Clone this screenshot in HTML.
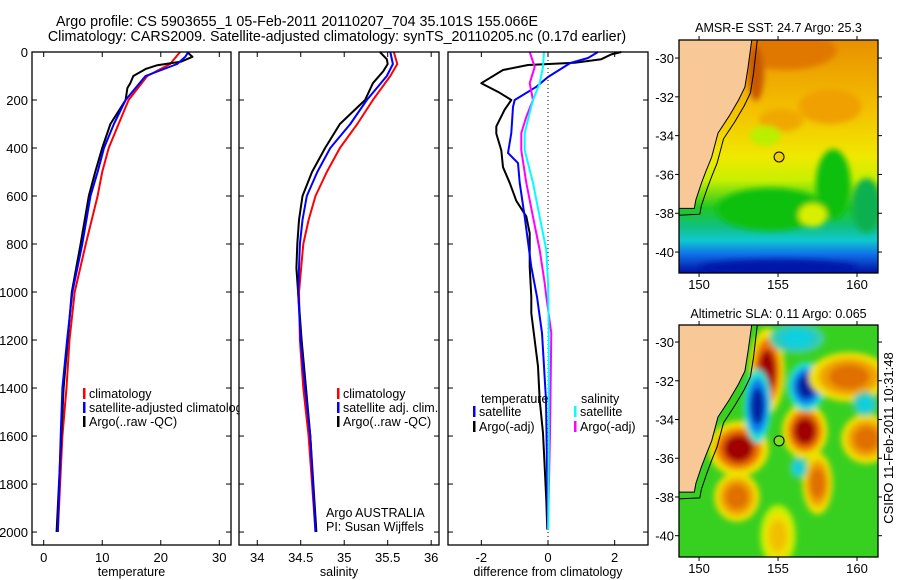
<!DOCTYPE html>
<html><head><meta charset="utf-8">
<style>
html,body{margin:0;padding:0;background:#fff;}
svg{display:block;font-family:"Liberation Sans",sans-serif;}
</style></head>
<body>
<svg id="fig" width="900" height="580" viewBox="0 0 900 580" xmlns="http://www.w3.org/2000/svg">
<defs>
<filter id="blur" x="-20%" y="-20%" width="140%" height="140%"><feGaussianBlur stdDeviation="3"/></filter>
<clipPath id="clipMap1"><rect x="679" y="40" width="199" height="233"/></clipPath>
<clipPath id="clipMap2"><rect x="679" y="325" width="199" height="232"/></clipPath>
<linearGradient id="sstGrad" x1="0" y1="0" x2="0" y2="1">
<stop offset="0" stop-color="#e89000"/><stop offset="0.3" stop-color="#f4c000"/>
<stop offset="0.5" stop-color="#f0e800"/><stop offset="0.6" stop-color="#c8f000"/>
<stop offset="0.72" stop-color="#20c820"/><stop offset="0.8" stop-color="#10c080"/>
<stop offset="0.86" stop-color="#10c8d0"/><stop offset="0.92" stop-color="#1070e8"/>
<stop offset="1" stop-color="#0010a0"/>
</linearGradient>
</defs>
<text x="297" y="26" font-size="14.3" text-anchor="middle">Argo profile: CS 5903655_1 05-Feb-2011 20110207_704 35.101S 155.066E</text>
<text x="337" y="41" font-size="14.3" text-anchor="middle">Climatology: CARS2009. Satellite-adjusted climatology: synTS_20110205.nc (0.17d earlier)</text>
<g id="layer"></g>
</svg>
<script>
// ---------- data ----------
const depthTempClim = [0,50,100,200,300,400,500,600,800,1000,1200,1400,1600,2000];
const tempClim      = [23.3,21.6,17.7,14.5,12.8,11.1,10.0,9.2,7.2,5.3,4.4,3.9,3.2,2.4];
const depthTempSat  = [0,20,50,100,200,300,400,500,600,800,1000,1200,1400,1600,2000];
const tempSat       = [24.7,24.2,22.8,17.4,14.0,12.0,10.3,9.2,8.0,6.6,4.9,4.0,3.2,2.9,2.4];
const depthTempArgo = [0,20,40,55,70,100,130,150,200,300,400,500,600,800,1000,1200,1400,1600,2000];
const tempArgo      = [24.5,25.4,23.5,19.4,17.5,15.3,14.8,14.3,14.0,11.4,10.0,8.8,7.7,6.3,4.8,4.1,3.4,3.0,2.2];

const depthSal     = [0,50,100,200,300,400,500,600,700,800,1000,1200,1400,1600,2000];
const salClim      = [35.57,35.61,35.53,35.33,35.15,34.95,34.80,34.67,34.59,34.53,34.48,34.49,34.53,34.59,34.67];
const salSat       = [35.53,35.56,35.49,35.26,35.07,34.84,34.69,34.57,34.52,34.49,34.47,34.50,34.55,34.61,34.67];
const depthSalArgo = [0,30,50,80,130,200,300,400,500,600,700,800,900,1000,1200,1400,1600,2000];
const salArgo      = [35.41,35.49,35.50,35.45,35.33,35.24,34.95,34.78,34.63,34.52,34.48,34.46,34.45,34.47,34.51,34.56,34.61,34.68];

const depthDiffT   = [0,10,30,45,54,75,130,170,200,240,310,340,410,480,545,620,685,755,895,1020,1088,1310,1450,1588,1729,1867,1990];
const diffTArgo    = [2.2,1.9,1.6,0.8,-0.6,-1.35,-2.0,-1.45,-1.1,-1.3,-1.55,-1.55,-1.4,-1.35,-1.15,-0.95,-0.65,-0.55,-0.55,-0.5,-0.5,-0.3,-0.25,-0.15,-0.1,-0.05,-0.02];
const depthDiffTS  = [0,25,46,104,145,200,229,338,421,463,545,687,895,1020,1171,1310,1450,1729,1990];
const diffTSat     = [1.5,1.2,0.67,0,-0.35,-1.0,-1.05,-1.1,-1.2,-0.9,-0.85,-0.7,-0.5,-0.33,-0.18,-0.12,-0.06,-0.03,0];
const depthDiffS   = [0,62,130,200,270,338,410,545,687,825,963,1020,1171,1588,1990];
const diffSArgo    = [-0.55,-0.4,-0.55,-0.45,-0.65,-0.8,-0.8,-0.65,-0.45,-0.25,-0.1,-0.05,0.1,0.06,0.0];
const diffSSat     = [-0.12,-0.15,-0.25,-0.45,-0.58,-0.7,-0.7,-0.45,-0.25,-0.05,0.0,0.01,0.02,0.02,0.01];

const depthTicks = [0,200,400,600,800,1000,1200,1400,1600,1800,2000];
const tempTicks = [0,10,20,30];
const salTicks = [34,34.5,35,35.5,36];
const salTickLabels = ["34","34.5","35","35.5","36"];
const diffTicks = [-2,0,2];
const latTicks = [-30,-32,-34,-36,-38,-40];
const lonTicks = [150,155,160];

// ---------- helpers ----------
const NS="http://www.w3.org/2000/svg";
const layer=document.getElementById('layer');
function mk(tag,attrs,parent){const e=document.createElementNS(NS,tag);for(const k in attrs)e.setAttribute(k,attrs[k]);(parent||layer).appendChild(e);return e;}
function txt(x,y,s,size,anchor,parent){const t=mk('text',{x:x,y:y,'font-size':size,'text-anchor':anchor||'start'},parent);t.textContent=s;return t;}
const yTop=52, yBot=545, dMax=2054;
function yD(d){return yTop+d/dMax*(yBot-yTop);}

function panel(name,x0,x1,xmin,xmax){
  const g=mk('g',{});
  
  
  mk('rect',{x:x0,y:yTop,width:x1-x0,height:yBot-yTop,fill:'#fff',stroke:'none'},g);
  return {g:g,x0:x0,x1:x1,sx:v=>x0+(v-xmin)/(xmax-xmin)*(x1-x0)};
}
function frame(p,xt,xl,xlabel,showY){
  const g=p.g;
  mk('rect',{x:p.x0,y:yTop,width:p.x1-p.x0,height:yBot-yTop,fill:'none',stroke:'#000','stroke-width':1.3},g);
  depthTicks.forEach(d=>{const y=yD(d);
    mk('line',{x1:p.x0,y1:y,x2:p.x0+5,y2:y,stroke:'#000'},g);
    mk('line',{x1:p.x1,y1:y,x2:p.x1-5,y2:y,stroke:'#000'},g);
    if(showY){const t=txt(p.x0-4,y+5,String(d),13,'end',g);
      
      }
  });
  xt.forEach((v,i)=>{const x=p.sx(v);
    mk('line',{x1:x,y1:yBot,x2:x,y2:yBot-5,stroke:'#000'},g);
    mk('line',{x1:x,y1:yTop,x2:x,y2:yTop+5,stroke:'#000'},g);
    const t=txt(x,562,xl[i],13,'middle',g);
    
    
  });
  const t=txt((p.x0+p.x1)/2,576,xlabel,12.5,'middle',g);
  
  
}
function series(p,xs,ds,color,w,name){
  let s='';xs.forEach((v,i)=>{s+=(i?'L':'M')+p.sx(v).toFixed(1)+','+yD(ds[i]).toFixed(1);});
  const e=mk('path',{d:s,fill:'none',stroke:color,'stroke-width':w,'stroke-linejoin':'round'},p.g);
  
  
}
function legend(g,x,y,color,label){
  mk('rect',{x:x,y:y-10,width:2.5,height:11,fill:color},g);
  const t=txt(x+6,y,label,12.5,'start',g);
  
  
}

// ---------- panel 1 temperature ----------
const p1=panel('temperature-panel',32,231,-2,32);
series(p1,tempClim,depthTempClim,'#ff0000',2,'temp-climatology-line');
series(p1,tempArgo,depthTempArgo,'#000',2,'temp-argo-line');
series(p1,tempSat,depthTempSat,'#0000ff',2,'temp-satellite-line');
legend(p1.g,83,398,'#ff0000','climatology');
legend(p1.g,83,412,'#0000ff','satellite-adjusted climatology');
legend(p1.g,83,426,'#000','Argo(..raw -QC)');
frame(p1,tempTicks,tempTicks.map(String),'temperature',true);

// ---------- panel 2 salinity ----------
const p2=panel('salinity-panel',239,439,33.79,36.09);
series(p2,salClim,depthSal,'#ff0000',2,'sal-climatology-line');
series(p2,salArgo,depthSalArgo,'#000',2,'sal-argo-line');
series(p2,salSat,depthSal,'#0000ff',2,'sal-satellite-line');
legend(p2.g,337,398,'#ff0000','climatology');
legend(p2.g,337,412,'#0000ff','satellite adj. clim.');
legend(p2.g,337,426,'#000','Argo(..raw -QC)');
{let t=txt(326,517,'Argo AUSTRALIA',12.5,'start',p2.g);
 t=txt(326,531,'PI: Susan Wijffels',12.5,'start',p2.g);}
frame(p2,salTicks,salTickLabels,'salinity',false);

// ---------- panel 3 difference ----------
const p3=panel('difference-panel',448,648,-3,3);
mk('line',{x1:p3.sx(0),y1:yTop,x2:p3.sx(0),y2:yBot,stroke:'#000','stroke-dasharray':'1,3'},p3.g);
series(p3,diffTArgo,depthDiffT,'#000',2,'diff-temp-argo-line');
series(p3,diffTSat,depthDiffTS,'#0000ff',2,'diff-temp-satellite-line');
series(p3,diffSArgo,depthDiffS,'#ff00ff',2,'diff-sal-argo-line');
series(p3,diffSSat,depthDiffS,'#00ffff',2,'diff-sal-satellite-line');
{const t=txt(481,403,'temperature',12.5,'start',p3.g);}
{const t=txt(581,403,'salinity',12.5,'start',p3.g);}
legend(p3.g,473,416,'#0000ff','satellite');
legend(p3.g,473,431,'#000','Argo(-adj)');
legend(p3.g,574,416,'#00ffff','satellite');
legend(p3.g,574,431,'#ff00ff','Argo(-adj)');
frame(p3,diffTicks,diffTicks.map(String),'difference from climatology',false);

// ---------- maps ----------
const coastLon=[153.35,153.1,152.9,152.5,151.9,151.2,150.8,150.45,150.15,149.8,149.7];
const coastLat=[-29.07,-30.5,-31.5,-32.17,-33.0,-33.87,-35.1,-35.8,-36.45,-37.3,-37.75];
const sstBlobs=[[155.5,-29.6,3.2,1.0,'#e07800'],[153.6,-30.8,0.5,1.4,'#c85800'],[158.3,-32.5,2.0,0.9,'#f0a000'],[155.2,-33.2,1.4,0.6,'#f0a800'],[154.2,-34.0,1.0,0.5,'#b8f000'],[154.5,-37.8,3.4,1.1,'#10c010'],[158.5,-36.5,1.1,1.8,'#10c010'],[160.6,-37.6,0.9,1.4,'#10b050'],[157.2,-38.1,0.9,0.6,'#d8f000'],[155,-40.8,5,0.4,'#0018a8']];
const slaBlobs=[[152.5,-35.5,1.2,0.9,'r'],[154.3,-31.5,0.7,1.4,'r'],[156.7,-34.6,0.9,0.9,'r'],[157.5,-37.3,0.6,1.0,'o'],[153.7,-33.3,0.55,1.2,'b'],[156.8,-32.3,0.75,0.8,'b'],[156.3,-36.5,0.35,0.35,'c'],[156.2,-29.8,1.1,0.5,'c'],[159.5,-31.8,1.6,0.8,'o'],[160.6,-35.0,1.0,0.8,'o'],[155.0,-40.0,0.7,1.0,'y'],[152.4,-38.0,0.9,0.8,'o'],[160.5,-33.2,0.5,0.4,'c']];

function mapAxes(name,clipId,top,bottom,latTop,latBot,title,titleY,lonLabY){
  const x0=679,x1=878,lonL=148.73,lonR=161.33;
  const sx=v=>x0+(v-lonL)/(lonR-lonL)*(x1-x0);
  const sy=v=>top+(latTop-v)/(latTop-latBot)*(bottom-top);
  const g=mk('g',{});
  
  
  const inner=mk('g',{'clip-path':'url(#'+clipId+')'},g);
  return {g:g,inner:inner,sx:sx,sy:sy,x0:x0,x1:x1,top:top,bottom:bottom,title:title,titleY:titleY,lonLabY:lonLabY};
}
function finishMap(m){
  let d='M'+m.x0+','+(m.top-2);
  coastLon.forEach((v,i)=>{d+=' L'+m.sx(v).toFixed(1)+','+(i==0?m.top-2:m.sy(coastLat[i])).toFixed(1);});
  d+=' L'+m.x0+','+m.sy(-37.75).toFixed(1)+'Z';
  const land=mk('path',{d:d,fill:'#f8c896',stroke:'#000','stroke-width':1},m.inner);
  
  
  let d2='';coastLon.forEach((v,i)=>{d2+=(i?'L':'M')+m.sx(v+0.35).toFixed(1)+','+(i==0?m.top-2:m.sy(coastLat[i]-0.3)).toFixed(1);});
  d2+=' L'+m.x0+','+m.sy(-38.1).toFixed(1);
  mk('path',{d:d2,fill:'none',stroke:'#000','stroke-width':1},m.inner);
  const c=mk('circle',{cx:m.sx(155.066),cy:m.sy(-35.101),r:5,fill:m.markFill,stroke:'#000','stroke-width':1},m.g);
  
  
  mk('rect',{x:m.x0,y:m.top,width:m.x1-m.x0,height:m.bottom-m.top,fill:'none',stroke:'#000','stroke-width':1.3},m.g);
  latTicks.forEach(v=>{const y=m.sy(v);
    mk('line',{x1:m.x0,y1:y,x2:m.x0-4,y2:y,stroke:'#000'},m.g);
    mk('line',{x1:m.x1,y1:y,x2:m.x1+4,y2:y,stroke:'#000'},m.g);
    const t=txt(m.x0-5,y+5,String(v),13,'end',m.g);
    
    
  });
  lonTicks.forEach(v=>{const x=m.sx(v);
    mk('line',{x1:x,y1:m.top,x2:x,y2:m.top-4,stroke:'#000'},m.g);
    mk('line',{x1:x,y1:m.bottom,x2:x,y2:m.bottom+4,stroke:'#000'},m.g);
    const t=txt(x,m.lonLabY,String(v),13,'middle',m.g);
    
    
  });
  const t=txt((m.x0+m.x1)/2,m.titleY,m.title,12.5,'middle',m.g);
  
  
}
const m1=mapAxes('sst-map','clipMap1',40,273,-29.07,-41.08,'AMSR-E SST: 24.7 Argo: 25.3',32,289);
mk('rect',{x:679,y:40,width:199,height:233,fill:'url(#sstGrad)'},m1.inner);
const b1=mk('g',{filter:'url(#blur)'},m1.inner);
sstBlobs.forEach(b=>{const e=mk('ellipse',{cx:m1.sx(b[0]),cy:m1.sy(b[1]),rx:b[2]*15.8,ry:b[3]*19.4,fill:b[4]},b1);
  
  });
m1.markFill='#f0d000';
finishMap(m1);
const m2=mapAxes('sla-map','clipMap2',325,557,-29.12,-41.1,'Altimetric SLA: 0.11 Argo: 0.065',318,573);
mk('rect',{x:679,y:325,width:199,height:232,fill:'#38d020'},m2.inner);
const b2=mk('g',{filter:'url(#blur)'},m2.inner);
const pal={r:['#f0e000','#f07000','#a00000'],o:['#f0e000','#f0a000','#e07000'],b:['#20e0d0','#1080f0','#0020a0'],c:['#40d0a0','#20c8c8','#10d0e0'],y:['#c8f000','#f0e000','#f0c000']};
slaBlobs.forEach(b=>{const cols=pal[b[4]];
  [1.6,1.2,0.8].forEach((s,k)=>{const e=mk('ellipse',{cx:m2.sx(b[0]),cy:m2.sy(b[1]),rx:b[2]*15.8*s,ry:b[3]*19.3*s,fill:cols[k]},b2);
    
    });
});
m2.markFill='#80e020';
finishMap(m2);
{const t=txt(0,0,'CSIRO 11-Feb-2011 10:31:48',13,'middle');
 t.setAttribute('transform','translate(893,438) rotate(-90)');
 
 }
</script>
</body></html>
